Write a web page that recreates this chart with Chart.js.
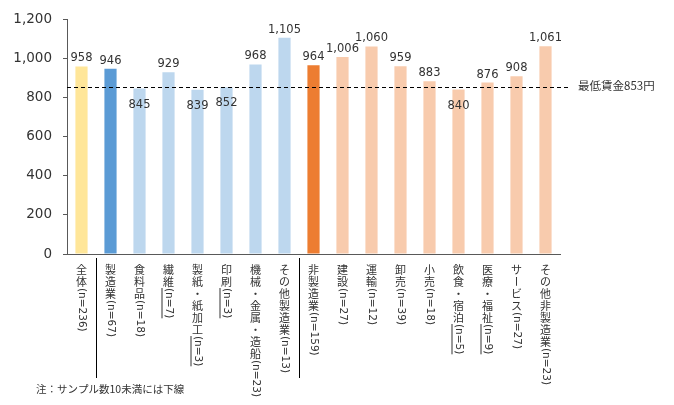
<!DOCTYPE html>
<html lang="ja">
<head>
<meta charset="utf-8">
<script src="https://cdn.jsdelivr.net/npm/chart.js@4/dist/chart.umd.min.js"></script>
<style>
  body { margin: 0; background: #fff; }
  canvas { display: block; }
</style>
</head>
<body>
<canvas id="wage-chart" width="674" height="405"></canvas>
<script>
// 業種別の平均時給（円）
const categories = [
  "全体(n=236)", "製造業(n=67)", "食料品(n=18)", "繊維(n=7)", "製紙・紙加工(n=3)",
  "印刷(n=3)", "機械・金属・造船(n=23)", "その他製造業(n=13)", "非製造業(n=159)",
  "建設(n=27)", "運輸(n=12)", "卸売(n=39)", "小売(n=18)", "飲食・宿泊(n=5)",
  "医療・福祉(n=9)", "サービス(n=27)", "その他非製造業(n=23)"
];
const wages = [958, 946, 845, 929, 839, 852, 968, 1105, 964, 1006, 1060, 959, 883, 840, 876, 908, 1061];
const sampleSize = [236, 67, 18, 7, 3, 3, 23, 13, 159, 27, 12, 39, 18, 5, 9, 27, 23];
const minWage = 853;
const minWageLabel = "最低賃金853円";
const yTicks = [0, 200, 400, 600, 800, 1000, 1200];
const note = "注：サンプル数10未満には下線";

// 全体・製造業・非製造業とその内訳で色分け
const barColors = [
  "#FFE699", "#5B9BD5", "#BDD7EE", "#BDD7EE", "#BDD7EE", "#BDD7EE", "#BDD7EE", "#BDD7EE",
  "#ED7D31", "#F8CBAD", "#F8CBAD", "#F8CBAD", "#F8CBAD", "#F8CBAD", "#F8CBAD", "#F8CBAD", "#F8CBAD"
];
// グループの区切り線を引く位置（この番号の左側）
const groupBreaks = [1, 8];

const TEXT = "#333333";
const LATIN = "'DejaVu Sans', Verdana, sans-serif";
const CJK = "'Noto Sans CJK JP', sans-serif";

function fmt(v) {
  return v.toLocaleString("en-US");
}

// 縦書きラベル：和文は正立、英数字と長音は90度回転
function drawVertical(ctx, text, x, top, underline) {
  let y = top;
  const step = 12;
  const runs = text.match(/[\x20-\x7e]+|[^\x20-\x7e]/g);
  runs.forEach(function (run) {
    const latin = /^[\x20-\x7e]+$/.test(run);
    if (latin || run === "ー") {
      ctx.save();
      ctx.font = latin ? "10.5px " + LATIN : "11px " + CJK;
      ctx.translate(x, y);
      ctx.rotate(Math.PI / 2);
      ctx.textAlign = "left";
      ctx.textBaseline = "middle";
      ctx.fillText(run, 0, 0);
      const w = latin ? ctx.measureText(run).width : step;
      if (underline && latin) {
        ctx.strokeStyle = TEXT;
        ctx.lineWidth = 1;
        ctx.beginPath();
        ctx.moveTo(0, 6.5);
        ctx.lineTo(w, 6.5);
        ctx.stroke();
      }
      ctx.restore();
      y += w;
    } else {
      ctx.font = "11px " + CJK;
      ctx.textAlign = "center";
      ctx.textBaseline = "middle";
      ctx.fillText(run, x, y + step / 2);
      y += step;
    }
  });
}

const decorations = {
  id: "decorations",
  afterDatasetsDraw(chart) {
    const ctx = chart.ctx;
    const xs = chart.scales.x;
    const ys = chart.scales.y;
    const area = chart.chartArea;
    const meta = chart.getDatasetMeta(0);

    // 最低賃金の破線
    const yMin = ys.getPixelForValue(minWage);
    ctx.save();
    ctx.strokeStyle = "#000";
    ctx.lineWidth = 1;
    ctx.setLineDash([4, 3]);
    ctx.beginPath();
    ctx.moveTo(area.left, Math.round(yMin) + 0.5);
    ctx.lineTo(area.right + 8, Math.round(yMin) + 0.5);
    ctx.stroke();
    ctx.restore();

    ctx.save();
    ctx.fillStyle = TEXT;
    ctx.font = "11.5px " + CJK;
    ctx.textAlign = "left";
    ctx.textBaseline = "middle";
    ctx.fillText(minWageLabel, area.right + 18, yMin - 1);

    // 値ラベル（最低賃金を下回る棒は線の下に置く）
    ctx.font = "11.5px " + LATIN;
    ctx.textAlign = "center";
    meta.data.forEach(function (bar, i) {
      const y = wages[i] < minWage ? bar.y + 16 : bar.y - 8;
      ctx.fillText(fmt(wages[i]), bar.x, y);
    });

    // 縦書きの業種名
    categories.forEach(function (label, i) {
      const x = xs.getPixelForValue(i);
      drawVertical(ctx, label, x, area.bottom + 10, sampleSize[i] < 10);
    });

    // 区切り線
    ctx.strokeStyle = "#000";
    ctx.lineWidth = 1;
    groupBreaks.forEach(function (i) {
      const x = Math.round((xs.getPixelForValue(i - 1) + xs.getPixelForValue(i)) / 2) + 0.5;
      ctx.beginPath();
      ctx.moveTo(x, area.bottom + 4);
      ctx.lineTo(x, area.bottom + 124);
      ctx.stroke();
    });

    // 注記
    ctx.font = "10.5px " + CJK;
    ctx.textAlign = "left";
    ctx.fillText(note, 36, 389);
    ctx.restore();
  }
};

new Chart(document.getElementById("wage-chart"), {
  type: "bar",
  data: {
    labels: categories,
    datasets: [{
      data: wages,
      backgroundColor: barColors,
      borderWidth: 0,
      categoryPercentage: 1,
      barPercentage: 0.42
    }]
  },
  options: {
    responsive: false,
    animation: false,
    layout: { padding: { top: 14, right: 114, left: 0, bottom: 0 } },
    plugins: {
      legend: { display: false },
      tooltip: { enabled: false }
    },
    scales: {
      x: {
        grid: { display: false },
        border: { display: true, color: "#595959", width: 1 },
        ticks: { display: false },
        afterFit(scale) { scale.height = 151; }
      },
      y: {
        min: 0,
        max: 1200,
        afterBuildTicks(scale) {
          scale.ticks = yTicks.map(function (v) { return { value: v }; });
        },
        grid: { drawOnChartArea: false, drawTicks: true, tickLength: 4, color: "#595959" },
        border: { display: true, color: "#595959", width: 1 },
        ticks: {
          color: TEXT,
          font: { family: LATIN, size: 13.5 },
          padding: 11,
          callback: function (v) { return fmt(v); }
        },
        afterFit(scale) { scale.width = 67; }
      }
    }
  },
  plugins: [decorations]
});
</script>
</body>
</html>
